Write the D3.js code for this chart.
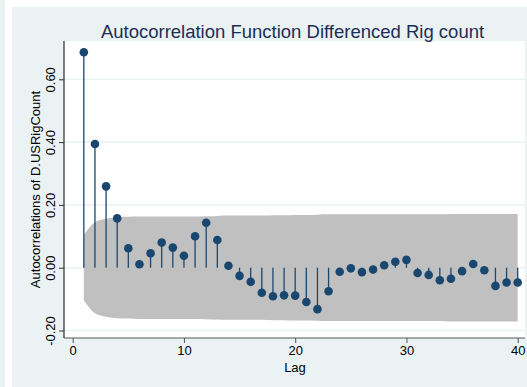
<!DOCTYPE html>
<html><head><meta charset="utf-8">
<script src="https://cdn.jsdelivr.net/npm/d3@7"></script>
<style>html,body{margin:0;padding:0;background:#fff;}svg{display:block;}</style>
</head><body>
<svg id="chart" width="527" height="387"></svg>
<script>
const title = "Autocorrelation Function Differenced Rig count";
const yTitle = "Autocorrelations of D.USRigCount";
const xTitle = "Lag";
const lags = d3.range(1, 41);
const acf = [0.686, 0.394, 0.259, 0.157, 0.062, 0.011, 0.046, 0.080, 0.064, 0.038,
             0.100, 0.143, 0.088, 0.006, -0.026, -0.045, -0.080, -0.091, -0.088, -0.089,
             -0.109, -0.132, -0.075, -0.013, -0.002, -0.014, -0.006, 0.008, 0.019, 0.025,
             -0.017, -0.023, -0.040, -0.035, -0.011, 0.012, -0.008, -0.058, -0.047, -0.047];
const band = [0.104, 0.145, 0.156, 0.161, 0.162, 0.163, 0.163, 0.163, 0.163, 0.163,
              0.163, 0.164, 0.165, 0.166, 0.166, 0.166, 0.166, 0.167, 0.167, 0.168,
              0.168, 0.169, 0.170, 0.170, 0.170, 0.170, 0.170, 0.170, 0.170, 0.170,
              0.170, 0.170, 0.170, 0.171, 0.171, 0.171, 0.171, 0.171, 0.171, 0.171];
const yTicks = [-0.20, 0.00, 0.20, 0.40, 0.60];
const yTickLabels = ["-0.20", "0.00", "0.20", "0.40", "0.60"];
const xTicks = [0, 10, 20, 30, 40];

const svg = d3.select("#chart");
const bg = "#eaf2f3", navy = "#1a476f";
svg.append("rect").attr("x",0).attr("y",0).attr("width",5).attr("height",387).attr("fill",bg);
svg.append("rect").attr("x",12).attr("y",7).attr("width",515).attr("height",380).attr("fill",bg);

const L = 64, R = 525, T = 41, B = 338;
const x = d3.scaleLinear().domain([0, 40]).range([72.7, 517.7]);
const y = d3.scaleLinear().domain([0, 0.6]).range([267.7, 79.3]);

svg.append("rect").attr("x",L).attr("y",T).attr("width",R-L).attr("height",B-T).attr("fill","#fff");

// gridlines
svg.append("g").selectAll("line").data(yTicks).join("line")
  .attr("x1",L).attr("x2",R).attr("y1",d=>y(d)).attr("y2",d=>y(d))
  .attr("stroke",bg).attr("stroke-width",1.5);

// band
const bandData = lags.map((l,i)=>({l, b: band[i]}));
svg.append("path").datum(bandData)
  .attr("fill","#c0c0c0")
  .attr("d", d3.area().x(d=>x(d.l)).y0(d=>y(-d.b)).y1(d=>y(d.b)).curve(d3.curveMonotoneX));

// stems
const pts = lags.map((l,i)=>({l, v: acf[i]}));
svg.append("g").selectAll("line").data(pts).join("line")
  .attr("x1",d=>x(d.l)).attr("x2",d=>x(d.l))
  .attr("y1",y(0)).attr("y2",d=>y(d.v))
  .attr("stroke",navy).attr("stroke-width",1.3);
svg.append("g").selectAll("circle").data(pts).join("circle")
  .attr("cx",d=>x(d.l)).attr("cy",d=>y(d.v)).attr("r",4.3).attr("fill",navy);

// axes
const fontFam = "'Liberation Sans', Arial, sans-serif";
const yAxis = svg.append("g").attr("transform",`translate(${L},0)`)
  .call(d3.axisLeft(y).tickValues(yTicks).tickSize(5).tickSizeOuter(0)
    .tickFormat((d,i)=>yTickLabels[i]));
yAxis.select(".domain").attr("d",`M0,${T}V${B}`).attr("stroke","#000");
yAxis.selectAll(".tick line").attr("stroke","#333");
yAxis.selectAll(".tick text")
  .attr("x",null).attr("dy",null)
  .attr("transform","translate(-9,0) rotate(-90)")
  .attr("text-anchor","middle")
  .attr("font-family",fontFam).attr("font-size",13).attr("fill","#000");

const xAxis = svg.append("g").attr("transform",`translate(0,${B})`)
  .call(d3.axisBottom(x).tickValues(xTicks).tickSize(5).tickSizeOuter(0));
xAxis.select(".domain").attr("d",`M${L},0H${R}`).attr("stroke","#555");
xAxis.selectAll(".tick line").attr("stroke","#555");
xAxis.selectAll(".tick text").attr("y",8).attr("dy","0.71em")
  .attr("font-family",fontFam).attr("font-size",13).attr("fill","#000");

svg.append("text").attr("x",295).attr("y",372).attr("text-anchor","middle")
  .attr("font-family",fontFam).attr("font-size",13).attr("fill","#000").text(xTitle);
svg.append("text").attr("transform",`translate(40,${(T+B)/2}) rotate(-90)`)
  .attr("text-anchor","middle")
  .attr("font-family",fontFam).attr("font-size",13).attr("fill","#000").text(yTitle);
svg.append("text").attr("x",292.5).attr("y",38).attr("text-anchor","middle")
  .attr("font-family",fontFam).attr("font-size",18.5).attr("fill","#1e2d53").text(title);
</script>
</body></html>
